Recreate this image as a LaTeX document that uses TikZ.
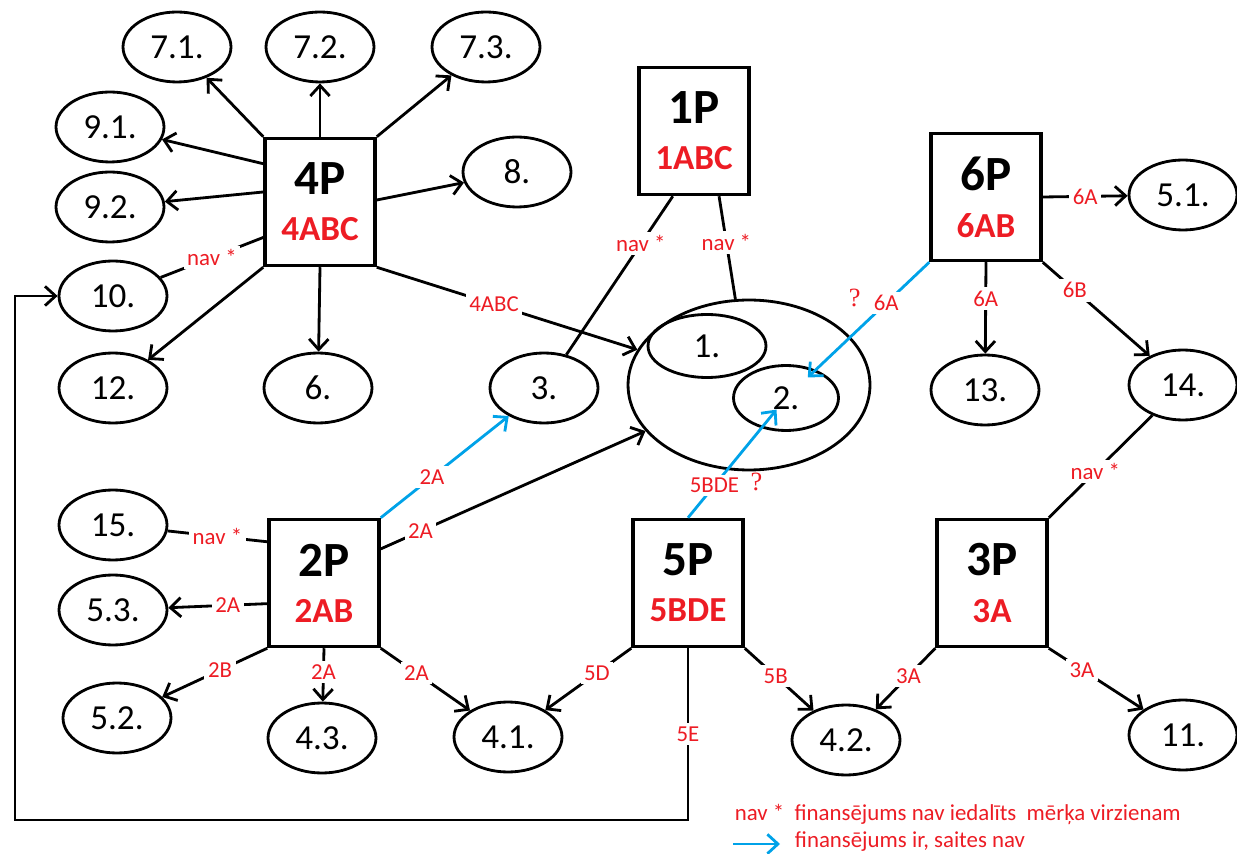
\documentclass[tikz,border=0pt]{standalone}
\usepackage{fontspec}
\setmainfont{Carlito}
\newfontfamily\qfont{Liberation Serif}
\usetikzlibrary{arrows.meta, positioning, shapes.geometric}

\definecolor{paintred}{HTML}{ED1C24}
\definecolor{paintblue}{HTML}{00A2E8}

\newcommand{\prog}[2]{{\bfseries\fontsize{28}{28}\selectfont #1}\\[12pt]%
  {\color{paintred}\bfseries\fontsize{20}{20}\selectfont #2}}

\begin{document}
\begin{tikzpicture}[x=0.02cm, y=-0.02cm,
                    every path/.style={line width=1.6pt},
                    pbox/.style={draw, line width=2pt, align=center, inner sep=0pt,
                                 minimum width=2.2cm, minimum height=2.54cm},
                    goal/.style={draw, ellipse, inner sep=0pt, minimum width=2.16cm,
                                 minimum height=1.4cm, font=\fontsize{20}{20}\selectfont},
                    lbl/.style={fill=white, text=paintred, inner sep=2pt,
                                font=\fontsize{13}{13}\selectfont},
                    qmark/.style={text=paintred, inner sep=0pt, font=\qfont\fontsize{15}{15}\selectfont},
                    arr/.style={-{Straight Barb[length=6pt, width=11pt]}},
                    link/.style={arr, paintblue}]
\useasboundingbox (0,0) rectangle (1237,854);

% Programmes
\node[pbox] (P4) at (320,202) {\prog{4P}{4ABC}};
\node[pbox] (P1) at (694,131) {\prog{1P}{1ABC}};
\node[pbox] (P6) at (986,197) {\prog{6P}{6AB}};
\node[pbox] (P2) at (324,583) {\prog{2P}{2AB}};
\node[pbox] (P5) at (688,583) {\prog{5P}{5BDE}};
\node[pbox] (P3) at (992,583) {\prog{3P}{3A}};

% Targets
\node[goal] (g71) at (177,47)  {7.1.};
\node[goal] (g72) at (320,47)  {7.2.};
\node[goal] (g73) at (486,47)  {7.3.};
\node[goal] (g91) at (110,127) {9.1.};
\node[goal] (g92) at (110,207) {9.2.};
\node[goal] (g8)  at (517,172) {8.};
\node[goal] (g10) at (113,296) {10.};
\node[goal] (g12) at (113,388) {12.};
\node[goal] (g6)  at (318,388) {6.};
\node[goal] (g3)  at (544,388) {3.};
\node[goal, minimum width=4.84cm, minimum height=3.4cm] (g0) at (749,385) {};
\node[goal, minimum width=2.36cm, minimum height=1.26cm] (g1) at (707,346) {1.};
\node[goal, minimum width=2.1cm, minimum height=1.3cm] (g2) at (786,398) {2.};
\node[goal] (g13) at (985,390) {13.};
\node[goal] (g14) at (1183,385) {14.};
\node[goal] (g51) at (1183,195) {5.1.};
\node[goal] (g15) at (113,525) {15.};
\node[goal] (g53) at (113,610) {5.3.};
\node[goal] (g52) at (117,718) {5.2.};
\node[goal] (g43) at (322,738) {4.3.};
\node[goal] (g41) at (508,737) {4.1.};
\node[goal] (g42) at (846,740) {4.2.};
\node[goal] (g11) at (1183,735) {11.};

% 4P
\draw[arr] (P4.north west) -- (g71);
\draw[arr] (P4.north) -- (g72);
\draw[arr] (P4.north east) -- (g73);
\draw[arr] (P4.146) -- (g91);
\draw[arr] (P4.170) -- (g92);
\draw[arr] (P4.2) -- (g8);
\draw (P4.212) -- node[lbl] {nav *} (g10);
\draw[arr] (P4.south west) -- (g12);
\draw[arr] (P4.south) -- (g6);
\draw[arr] (P4.south east) -- node[lbl, pos=0.45] {4ABC} (g0);

% 1P
\draw (P1.252) -- node[lbl, pos=0.3] {nav *} (g3);
\draw (P1.291) -- node[lbl, pos=0.45] {nav *} (g0);

% 6P
\draw[arr] (P6.east) -- node[lbl] {6A} (g51);
\draw[arr] (P6.south) -- node[lbl, pos=0.4] {6A} (g13);
\draw[arr] (P6.south east) -- node[lbl, pos=0.3] {6B} (g14);
\draw[link, shorten >=0.6cm] (P6.south west) -- node[lbl, pos=0.3] (q6) {6A} (g2.center);
\node[qmark, left=4pt of q6, yshift=3pt] (q6m) {?};

% 2P
\draw[link] (P2.north east) -- node[lbl, pos=0.4] {2A} (g3);
\draw[arr] (P2.31) -- node[lbl, pos=0.15] {2A} (g0);
\draw (P2.144) -- node[lbl] {nav *} (g15);
\draw[arr] (P2.200) -- node[lbl, pos=0.4] {2A} (g53);
\draw[arr] (P2.south west) -- node[lbl, pos=0.45] {2B} (g52);
\draw[arr] (P2.south) -- node[lbl, pos=0.45] {2A} (g43);
\draw[arr] (P2.south east) -- node[lbl, pos=0.4] {2A} (g41);

% 5P
\draw[link, shorten >=0.3cm] (P5.north) -- node[lbl, pos=0.27] (q5) {5BDE} (g2.center);
\node[qmark, right=3pt of q5, yshift=2pt] (q5m) {?};
\draw[arr] (P5.south west) -- node[lbl, pos=0.4] {5D} (g41);
\draw[arr] (P5.south east) -- node[lbl, pos=0.45] {5B} (g42);
\coordinate (c5) at (P5.south |- 0,820);
\coordinate (c10) at (15,820);
\draw[arr] (P5.south) -- node[lbl] {5E} (c5) -- (c10) |- (g10);

% 3P
\draw (P3.north east) -- node[lbl, pos=0.45] {nav *} (g14);
\draw[arr] (P3.south west) -- node[lbl, pos=0.45] {3A} (g42);
\draw[arr] (P3.south east) -- node[lbl, pos=0.35] {3A} (g11);

% Legend
\node[lbl, anchor=west] (leg1) at (730,814) {nav *~ finansējums nav iedalīts~ mērķa virzienam};
\coordinate (legA) at (733,844);
\coordinate (legB) at (780,844);
\draw[link] (legA) -- (legB);
\node[lbl, anchor=west] (leg2) at (790,842) {finansējums ir, saites nav};

\end{tikzpicture}
\end{document}
